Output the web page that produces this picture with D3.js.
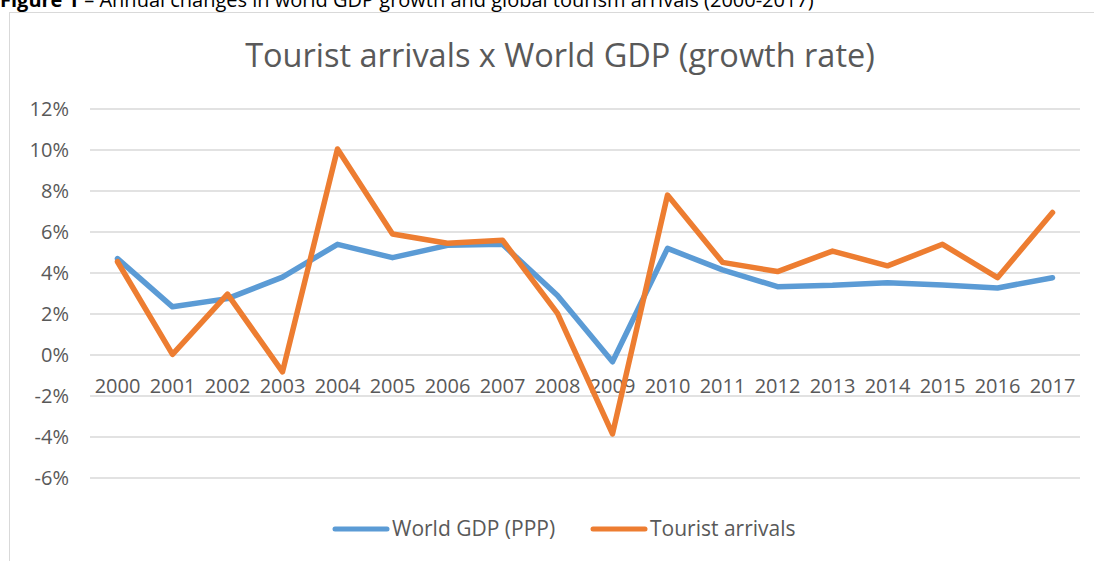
<!DOCTYPE html>
<html><head><meta charset="utf-8">
<script src="https://cdn.jsdelivr.net/npm/d3@7"></script>
<style>body{margin:0;background:#fff}svg{display:block}</style>
</head><body>
<svg id="c" width="1094" height="561"></svg>
<script>
const years = ["2000","2001","2002","2003","2004","2005","2006","2007","2008","2009","2010","2011","2012","2013","2014","2015","2016","2017"];
const gdp = [4.7,2.35,2.75,3.8,5.4,4.75,5.35,5.4,2.9,-0.33,5.2,4.15,3.33,3.4,3.53,3.42,3.27,3.77];
const tourist = [4.55,0.03,2.97,-0.82,10.05,5.9,5.45,5.6,2.03,-3.85,7.8,4.52,4.07,5.07,4.35,5.4,3.77,6.95];
const yTicks = [-6,-4,-2,0,2,4,6,8,10,12];
const seriesNames = ["World GDP (PPP)","Tourist arrivals"];
const colors = ["#5B9BD5","#ED7D31"];

const svg = d3.select("#c");
const font = "'Open Sans', sans-serif";
const textCol = "#595959";

// caption (cut off at the top as in the reference)
svg.append("text").attr("x",0).attr("y",7).attr("font-family",font).attr("font-size",20).attr("fill","#000")
  .html('<tspan font-weight="bold">Figure 1</tspan> – Annual changes in world GDP growth and global tourism arrivals (2000-2017)');

// chart border
svg.append("rect").attr("x",9.5).attr("y",12.5).attr("width",1100).attr("height",560)
  .attr("fill","#fff").attr("stroke","#D9D9D9").attr("stroke-width",1);

const x = d3.scaleBand().domain(years).range([90,1080]);
const y = d3.scaleLinear().domain([-6,12]).range([478,109]);

// gridlines
svg.append("g").selectAll("line").data(yTicks).join("line")
  .attr("x1",90).attr("x2",1080).attr("y1",d=>y(d)).attr("y2",d=>y(d))
  .attr("stroke","#D9D9D9").attr("stroke-width",1.5);

// y labels
svg.append("g").selectAll("text").data(yTicks).join("text")
  .attr("x",69).attr("y",d=>y(d)+7).attr("text-anchor","end")
  .attr("font-family",font).attr("font-size",20).attr("fill",textCol)
  .text(d=>d+"%");

// x labels
svg.append("g").selectAll("text").data(years).join("text")
  .attr("x",d=>x(d)+x.bandwidth()/2).attr("y",y(0)+38).attr("text-anchor","middle")
  .attr("font-family",font).attr("font-size",20).attr("fill",textCol)
  .text(d=>d);

// lines
const line = d3.line().x((d,i)=>x(years[i])+x.bandwidth()/2).y(d=>y(d));
[gdp,tourist].forEach((s,k)=>{
  svg.append("path").datum(s).attr("d",line).attr("fill","none")
    .attr("stroke",colors[k]).attr("stroke-width",5.5).attr("stroke-linejoin","round").attr("stroke-linecap","round");
});

// title
svg.append("text").attr("x",560).attr("y",67).attr("text-anchor","middle")
  .attr("font-family",font).attr("font-size",32.5).attr("fill",textCol)
  .text("Tourist arrivals x World GDP (growth rate)");

// legend
const legX = [335,593];
seriesNames.forEach((n,k)=>{
  svg.append("line").attr("x1",legX[k]).attr("x2",legX[k]+52).attr("y1",529).attr("y2",529)
    .attr("stroke",colors[k]).attr("stroke-width",5).attr("stroke-linecap","round");
  svg.append("text").attr("x",legX[k]+57).attr("y",536).attr("font-family",font).attr("font-size",21).attr("fill",textCol).text(n);
});
</script>
</body></html>
